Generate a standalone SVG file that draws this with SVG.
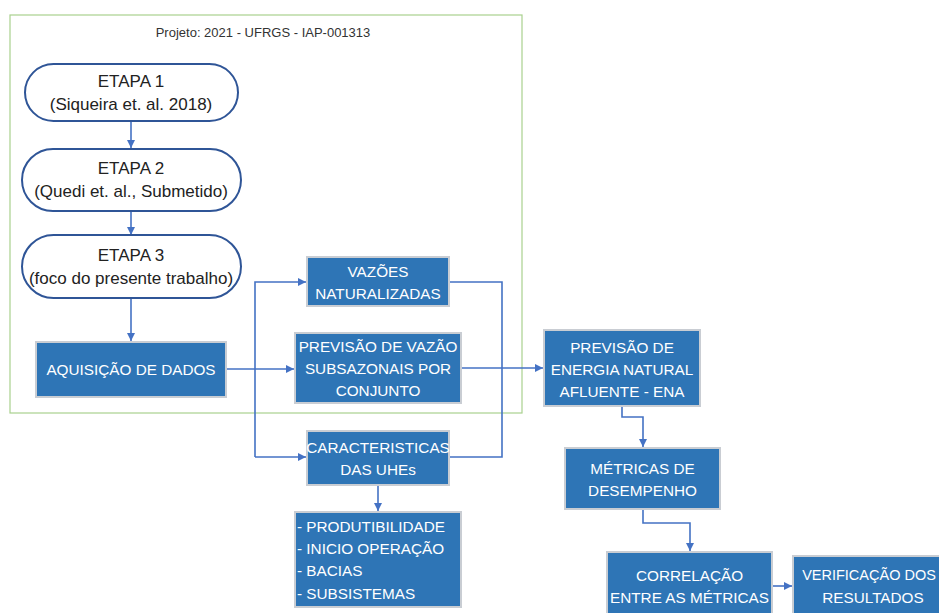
<svg xmlns="http://www.w3.org/2000/svg" width="939" height="613" viewBox="0 0 939 613">
<defs>
<style>
.frame{fill:none;stroke:#A9D18E;stroke-width:1.2}
.stad{fill:#fff;stroke:#2F5597;stroke-width:2}
.box{fill:#2E75B6;stroke:#C9CDD3;stroke-width:2}
.st{font-family:"Liberation Sans",Arial,sans-serif;font-size:17px;fill:#222;text-anchor:middle;dominant-baseline:central}
.bt{font-family:"Liberation Sans",Arial,sans-serif;font-size:15.3px;fill:#fff;text-anchor:middle;dominant-baseline:central}
.lt{font-family:"Liberation Sans",Arial,sans-serif;font-size:15.3px;fill:#fff;dominant-baseline:central}
.title{font-family:"Liberation Sans",Arial,sans-serif;font-size:13px;fill:#333;text-anchor:middle;dominant-baseline:central}
.c{fill:none;stroke:#4472C4;stroke-width:1.6}
</style>
<marker id="ah" viewBox="0 0 8 8" refX="8" refY="4" markerWidth="8" markerHeight="8" markerUnits="userSpaceOnUse" orient="auto">
<path d="M0,0 L8,4 L0,8 z" fill="#4472C4"/>
</marker>
</defs>
<rect width="939" height="613" fill="#fff"/>
<g id="frame">
<rect class="frame" x="10" y="15" width="512" height="398"/>
<text class="title" x="263" y="32">Projeto: 2021 - UFRGS - IAP-001313</text>
</g>
<g id="connectors">
<path class="c" d="M131,121 V148" marker-end="url(#ah)"/>
<path class="c" d="M131,211 V235" marker-end="url(#ah)"/>
<path class="c" d="M131,298 V341" marker-end="url(#ah)"/>
<path class="c" d="M226,369 H294" marker-end="url(#ah)"/>
<path class="c" d="M255,457 V282 H306" marker-end="url(#ah)"/>
<path class="c" d="M255,457 H306" marker-end="url(#ah)"/>
<path class="c" d="M449,282 H502 V457 H449"/>
<path class="c" d="M461,368 H543" marker-end="url(#ah)"/>
<path class="c" d="M378,485 V511" marker-end="url(#ah)"/>
<path class="c" d="M622,406 V417 H643 V447" marker-end="url(#ah)"/>
<path class="c" d="M643,509 V523 H690 V551" marker-end="url(#ah)"/>
<path class="c" d="M772,586 H792" marker-end="url(#ah)"/>
</g>
<g id="etapa1">
<rect class="stad" x="25" y="64" width="213" height="57" rx="28.5"/>
<text class="st" x="131" y="81">ETAPA 1</text>
<text class="st" x="131" y="104">(Siqueira et. al. 2018)</text>
</g>
<g id="etapa2">
<rect class="stad" x="22" y="149" width="219" height="62" rx="31"/>
<text class="st" x="131" y="168">ETAPA 2</text>
<text class="st" x="131" y="191">(Quedi et. al., Submetido)</text>
</g>
<g id="etapa3">
<rect class="stad" x="22" y="235" width="219" height="63" rx="31.5"/>
<text class="st" x="131" y="255">ETAPA 3</text>
<text class="st" x="131" y="278">(foco do presente trabalho)</text>
</g>
<g id="aquisicao">
<rect class="box" x="36" y="342" width="190" height="55"/>
<text class="bt" x="131" y="369.5">AQUISIÇÃO DE DADOS</text>
</g>
<g id="vazoes">
<rect class="box" x="307" y="257" width="142" height="49"/>
<text class="bt" x="378" y="271">VAZÕES</text>
<text class="bt" x="378" y="293">NATURALIZADAS</text>
</g>
<g id="previsao-vazao">
<rect class="box" x="295" y="333" width="166" height="70"/>
<text class="bt" x="378" y="346">PREVISÃO DE VAZÃO</text>
<text class="bt" x="378" y="368.5">SUBSAZONAIS POR</text>
<text class="bt" x="378" y="390.5">CONJUNTO</text>
</g>
<g id="caracteristicas">
<rect class="box" x="307" y="431" width="142" height="54"/>
<text class="bt" x="378" y="447">CARACTERISTICAS</text>
<text class="bt" x="378" y="469.5">DAS UHEs</text>
</g>
<g id="lista">
<rect class="box" x="295" y="512" width="166" height="95"/>
<text class="lt" x="297" y="526">- PRODUTIBILIDADE</text>
<text class="lt" x="297" y="548.5">- INICIO OPERAÇÃO</text>
<text class="lt" x="297" y="570.5">- BACIAS</text>
<text class="lt" x="297" y="593">- SUBSISTEMAS</text>
</g>
<g id="ena">
<rect class="box" x="544" y="330" width="156" height="76"/>
<text class="bt" x="622" y="347">PREVISÃO DE</text>
<text class="bt" x="622" y="369.5">ENERGIA NATURAL</text>
<text class="bt" x="622" y="391.5">AFLUENTE - ENA</text>
</g>
<g id="metricas">
<rect class="box" x="565" y="448" width="155" height="61"/>
<text class="bt" x="642.5" y="468.5">MÉTRICAS DE</text>
<text class="bt" x="642.5" y="490.5">DESEMPENHO</text>
</g>
<g id="correlacao">
<rect class="box" x="607" y="552" width="165" height="70"/>
<text class="bt" x="689.5" y="575">CORRELAÇÃO</text>
<text class="bt" x="689.5" y="597">ENTRE AS MÉTRICAS</text>
</g>
<g id="verificacao">
<rect class="box" x="793" y="556" width="160" height="66"/>
<text class="bt" x="869" y="575" style="font-size:14.5px">VERIFICAÇÃO DOS</text>
<text class="bt" x="873" y="597">RESULTADOS</text>
</g>
</svg>
